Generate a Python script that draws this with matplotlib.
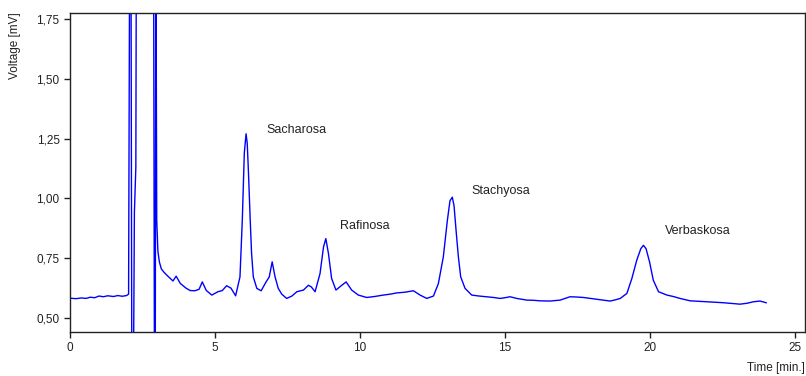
import matplotlib.pyplot as plt
from matplotlib.ticker import FuncFormatter

plt.rcParams['font.family'] = ['Liberation Sans', 'DejaVu Sans']

# chromatogram trace (time in min, detector signal in mV)
time = [0.00, 0.20, 0.40, 0.55, 0.70, 0.85, 1.00, 1.15, 1.30, 1.50, 1.65, 1.80, 1.95, 2.02,
        2.06, 2.10, 2.13, 2.19, 2.22, 2.27, 2.29, 2.88, 2.91, 2.94, 2.96, 2.99,
        3.03, 3.08, 3.15, 3.25, 3.40, 3.55, 3.66, 3.80, 4.00, 4.14, 4.30, 4.45, 4.56,
        4.70, 4.89, 5.10, 5.25, 5.40, 5.55, 5.71, 5.86, 5.94, 6.01, 6.07, 6.11, 6.15,
        6.21, 6.26, 6.32, 6.44, 6.59, 6.76, 6.87, 6.97, 7.07, 7.18, 7.30, 7.47, 7.65,
        7.82, 8.05, 8.22, 8.32, 8.45, 8.62, 8.74, 8.82, 8.91, 9.02, 9.17, 9.37, 9.52,
        9.71, 9.94, 10.23, 10.50, 10.80, 11.05, 11.26, 11.55, 11.84, 12.07, 12.30,
        12.53, 12.70, 12.87, 13.01, 13.10, 13.18, 13.24, 13.31, 13.39, 13.47, 13.62,
        13.85, 14.10, 14.37, 14.60, 14.83, 15.00, 15.17, 15.40, 15.75, 16.00, 16.20,
        16.55, 16.90, 17.24, 17.45, 17.70, 17.95, 18.16, 18.40, 18.62, 18.80, 18.97,
        19.20, 19.37, 19.54, 19.68, 19.77, 19.86, 19.98, 20.11, 20.29, 20.58, 20.80,
        21.03, 21.20, 21.38, 21.65, 21.95, 22.25, 22.53, 22.80, 23.10, 23.35, 23.56,
        23.79, 24.00]
voltage = [0.583, 0.581, 0.584, 0.582, 0.587, 0.585, 0.592, 0.589, 0.593, 0.590, 0.594, 0.591, 0.594, 0.600,
           2.200, 2.200, 0.300, 0.300, 0.940, 1.130, 2.200, 2.200, 0.300, 0.300, 2.200, 0.910,
           0.780, 0.735, 0.705, 0.690, 0.672, 0.655, 0.675, 0.645, 0.625, 0.615, 0.614, 0.620, 0.651,
           0.615, 0.596, 0.610, 0.615, 0.635, 0.625, 0.593, 0.672, 0.908, 1.190, 1.270, 1.230, 1.117,
           0.920, 0.770, 0.672, 0.624, 0.614, 0.651, 0.672, 0.735, 0.672, 0.624, 0.600, 0.582, 0.592,
           0.610, 0.617, 0.637, 0.630, 0.610, 0.686, 0.797, 0.832, 0.770, 0.665, 0.617, 0.637, 0.651,
           0.617, 0.596, 0.586, 0.590, 0.596, 0.600, 0.605, 0.608, 0.614, 0.596, 0.582,
           0.592, 0.644, 0.755, 0.908, 0.990, 1.005, 0.970, 0.867, 0.755, 0.672, 0.624,
           0.596, 0.592, 0.589, 0.586, 0.582, 0.585, 0.589, 0.582, 0.575, 0.574, 0.572,
           0.571, 0.575, 0.589, 0.588, 0.586, 0.582, 0.579, 0.575, 0.571, 0.576, 0.582,
           0.603, 0.665, 0.742, 0.790, 0.804, 0.790, 0.735, 0.658, 0.610, 0.596, 0.590,
           0.582, 0.577, 0.572, 0.570, 0.568, 0.566, 0.564, 0.561, 0.558, 0.562, 0.568,
           0.571, 0.564]

peaks = ["Sacharosa", "Rafinosa", "Stachyosa", "Verbaskosa"]
peak_label_t = [6.76, 9.31, 13.83, 20.52]
peak_label_v = [1.285, 0.883, 1.033, 0.862]

xticks = [0, 5, 10, 15, 20, 25]
yticks = [0.50, 0.75, 1.00, 1.25, 1.50, 1.75]

fig = plt.figure(figsize=(8.06, 3.76), dpi=100)
ax = fig.add_axes([70 / 806, 1 - 332 / 376, 735 / 806, (332 - 12.7) / 376])

ax.plot(time, voltage, color="#0000ff", linewidth=1.0)

for name, t, v in zip(peaks, peak_label_t, peak_label_v):
    ax.text(t, v, name, fontsize=9, ha="left", va="center", color="#222222")

ax.set_xlim(0, 25.34)
ax.set_ylim(0.4417, 1.776)
ax.set_xticks(xticks)
ax.set_yticks(yticks)
ax.yaxis.set_major_formatter(FuncFormatter(lambda v, p: f"{v:.2f}".replace(".", ",")))
ax.tick_params(direction="out", length=4, width=1, labelsize=8.5, colors="#222222")
for side in ["left", "right", "top", "bottom"]:
    ax.spines[side].set_linewidth(1)
    ax.spines[side].set_color("#222222")

fig.text(15 / 806, 1 - 12 / 376, "Voltage [mV]", rotation=90, ha="center", va="top",
         fontsize=8.5, color="#222222")
fig.text(805 / 806, 1 - 368 / 376, "Time [min.]", ha="right", va="center",
         fontsize=8.5, color="#222222")

fig.savefig("out.png", dpi=100)
